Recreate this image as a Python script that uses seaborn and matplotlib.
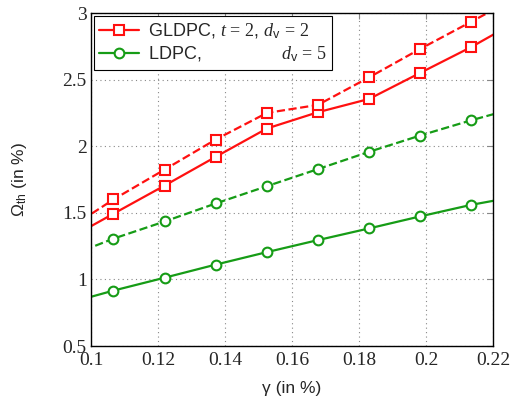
import matplotlib
matplotlib.use("Agg")
import matplotlib.pyplot as plt
from matplotlib.ticker import AutoMinorLocator
from matplotlib.lines import Line2D
import seaborn as sns
import pandas as pd

gamma = [0.09145, 0.1067, 0.1220, 0.1372, 0.1525, 0.1677, 0.1830, 0.1982, 0.2135, 0.2287]
gldpc_solid = [1.28, 1.493, 1.705, 1.92, 2.133, 2.255, 2.355, 2.55, 2.745, 2.96]
gldpc_dashed = [1.35, 1.60, 1.825, 2.05, 2.25, 2.31, 2.517, 2.73, 2.935, 3.14]
ldpc_solid = [0.81, 0.916, 1.013, 1.111, 1.205, 1.295, 1.383, 1.473, 1.56, 1.63]
ldpc_dashed = [1.156, 1.306, 1.435, 1.57, 1.70, 1.828, 1.958, 2.08, 2.195, 2.30]

xticks = [0.1, 0.12, 0.14, 0.16, 0.18, 0.2, 0.22]
xticklabels = ["0.1", "0.12", "0.14", "0.16", "0.18", "0.2", "0.22"]
yticks = [0.5, 1, 1.5, 2, 2.5, 3]
yticklabels = ["0.5", "1", "1.5", "2", "2.5", "3"]

sns.set_style("white")
plt.rcParams["font.family"] = ["Liberation Sans", "DejaVu Sans"]
plt.rcParams["mathtext.fontset"] = "custom"
plt.rcParams["mathtext.rm"] = "Liberation Serif"
plt.rcParams["mathtext.it"] = "Liberation Serif:italic"
plt.rcParams["mathtext.sf"] = "Liberation Sans"

RED = "#ff1010"
GREEN = "#169c16"

fig = plt.figure(figsize=(5.11, 4.03), dpi=100)
ax = fig.add_axes([0.178, 0.1414, 0.787, 0.8263])

series = [
    (gldpc_solid, RED, "s", "-"),
    (gldpc_dashed, RED, "s", "--"),
    (ldpc_solid, GREEN, "o", "-"),
    (ldpc_dashed, GREEN, "o", "--"),
]
for vals, col, mk, ls in series:
    df = pd.DataFrame({"x": gamma, "y": vals})
    sns.lineplot(data=df, x="x", y="y", ax=ax, color=col, marker=mk, linestyle=ls,
                 linewidth=1.6, markersize=7, markerfacecolor="white",
                 markeredgecolor=col, markeredgewidth=1.5, legend=False, clip_on=True)

ax.set_xlim(0.1, 0.22)
ax.set_ylim(0.5, 3)
ax.set_xticks(xticks)
ax.set_xticklabels(xticklabels, family=["Liberation Serif"], fontsize=14)
ax.set_yticks(yticks)
ax.set_yticklabels(yticklabels, family=["Liberation Serif"], fontsize=14)
ax.xaxis.set_minor_locator(AutoMinorLocator(10))
ax.yaxis.set_minor_locator(AutoMinorLocator(10))
ax.tick_params(which="major", direction="in", length=4, width=0.8, color="#888888",
               top=True, right=True)
ax.tick_params(axis="x", which="major", pad=4)
ax.tick_params(axis="y", which="major", pad=3)
ax.tick_params(which="minor", direction="in", length=2, width=0.5, color="#999999",
               top=False, right=False)
ax.grid(True, which="major", linestyle=(0, (1, 3)), color="#888888", linewidth=0.8)
for s in ax.spines.values():
    s.set_color("black")
    s.set_linewidth(1.0)

ax.set_xlabel("γ (in %)", fontsize=12.5, labelpad=9)
ax.set_ylabel(r"$\mathsf{Ω}_{\mathsf{th}}$ (in %)", fontsize=12.5, labelpad=24)

handles = [
    Line2D([], [], color=RED, marker="s", linestyle="-", linewidth=1.6, markersize=7,
           markerfacecolor="white", markeredgecolor=RED, markeredgewidth=1.5),
    Line2D([], [], color=GREEN, marker="o", linestyle="-", linewidth=1.6, markersize=7,
           markerfacecolor="white", markeredgecolor=GREEN, markeredgewidth=1.5),
]
labels = [r"GLDPC, $t\,=\,2$, $d_{\mathsf{v}}\,=\,2$",
          r"LDPC,                $d_{\mathsf{v}}\,=\,5$"]
leg = ax.legend(handles, labels, loc="upper left", fontsize=13, frameon=True,
                fancybox=False, edgecolor="black", framealpha=1, borderaxespad=0.15,
                handlelength=2.2, handletextpad=0.5, borderpad=0.3, labelspacing=0.25)
leg.get_frame().set_linewidth(0.8)

fig.savefig("out.png", dpi=100)
